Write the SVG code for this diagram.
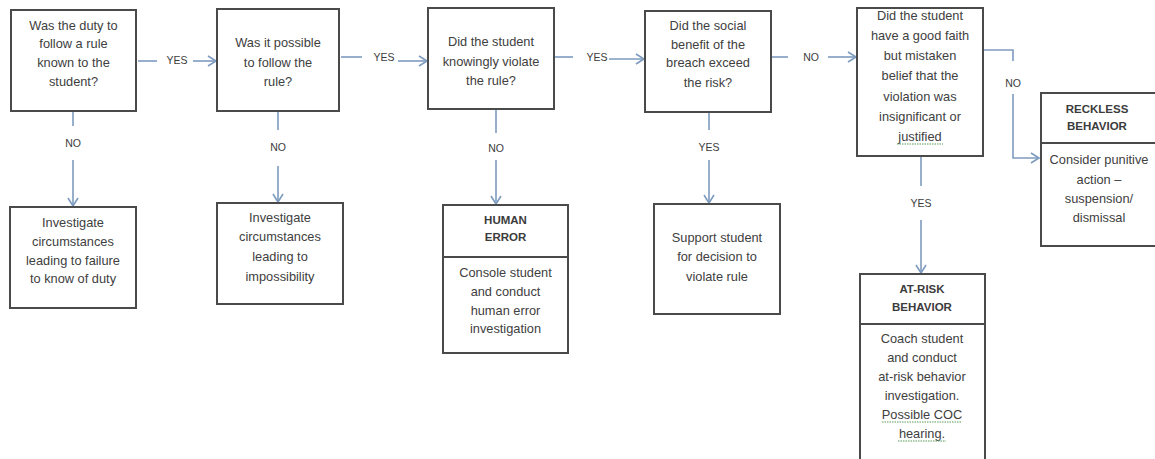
<svg xmlns="http://www.w3.org/2000/svg" width="1155" height="459" viewBox="0 0 1155 459">
<style>
.box{fill:#fff;stroke:#4a4a4a;stroke-width:2}
.div{stroke:#4a4a4a;stroke-width:2}
.t{font-family:"Liberation Sans",Arial,sans-serif;font-size:12.8px;fill:#404040;text-anchor:middle}
.h{font-family:"Liberation Sans",Arial,sans-serif;font-size:11.5px;font-weight:bold;fill:#3c3c3c;text-anchor:middle}
.lbl{font-family:"Liberation Sans",Arial,sans-serif;font-size:10.5px;fill:#3c3c3c;text-anchor:middle}
.c{fill:none;stroke:#7d9bbf;stroke-width:1.6}
.ul{stroke:#5a9a5a;stroke-width:1;stroke-dasharray:1.5 1}
</style>
<defs>
<marker id="arr" markerWidth="12" markerHeight="12" refX="10" refY="6" orient="auto" markerUnits="userSpaceOnUse">
<path d="M2,1 L10,6 L2,11" fill="none" stroke="#7d9bbf" stroke-width="1.6"/>
</marker>
</defs>
<rect width="1155" height="459" fill="#fff"/>

<g id="connectors">
<line class="c" x1="138" y1="61" x2="157" y2="61"/>
<text class="lbl" x="177" y="64">YES</text>
<line class="c" x1="193" y1="61" x2="216" y2="61" marker-end="url(#arr)"/>

<line class="c" x1="341" y1="57" x2="362" y2="57"/>
<text class="lbl" x="384" y="61">YES</text>
<line class="c" x1="398" y1="61" x2="427" y2="61" marker-end="url(#arr)"/>

<line class="c" x1="555" y1="57" x2="573" y2="57"/>
<text class="lbl" x="597" y="61">YES</text>
<line class="c" x1="609" y1="59" x2="644" y2="59" marker-end="url(#arr)"/>

<line class="c" x1="772" y1="57" x2="788" y2="57"/>
<text class="lbl" x="811" y="61">NO</text>
<line class="c" x1="828" y1="57" x2="856" y2="57" marker-end="url(#arr)"/>

<path class="c" d="M984,50 H1013 V61"/>
<text class="lbl" x="1013" y="87">NO</text>
<path class="c" d="M1013,94 V158 H1039" marker-end="url(#arr)"/>

<line class="c" x1="73" y1="112" x2="73" y2="126"/>
<text class="lbl" x="73" y="147">NO</text>
<line class="c" x1="73" y1="160" x2="73" y2="206" marker-end="url(#arr)"/>

<line class="c" x1="278" y1="112" x2="278" y2="130"/>
<text class="lbl" x="278" y="151">NO</text>
<line class="c" x1="278" y1="166" x2="278" y2="202" marker-end="url(#arr)"/>

<line class="c" x1="496" y1="110" x2="496" y2="133"/>
<text class="lbl" x="496" y="152">NO</text>
<line class="c" x1="496" y1="160" x2="496" y2="204" marker-end="url(#arr)"/>

<line class="c" x1="709" y1="113" x2="709" y2="130"/>
<text class="lbl" x="709" y="151">YES</text>
<line class="c" x1="709" y1="160" x2="709" y2="203" marker-end="url(#arr)"/>

<line class="c" x1="921" y1="157" x2="921" y2="186"/>
<text class="lbl" x="921" y="207">YES</text>
<line class="c" x1="921" y1="220" x2="921" y2="273" marker-end="url(#arr)"/>
</g>

<g id="q1">
<rect class="box" x="11" y="10" width="125" height="101"/>
<text class="t" x="73.5" y="30">Was the duty to</text>
<text class="t" x="73.5" y="48">follow a rule</text>
<text class="t" x="73.5" y="67">known to the</text>
<text class="t" x="73.5" y="86">student?</text>
</g>

<g id="q2">
<rect class="box" x="217" y="9" width="122" height="102"/>
<text class="t" x="278" y="47">Was it possible</text>
<text class="t" x="278" y="67">to follow the</text>
<text class="t" x="278" y="86">rule?</text>
</g>

<g id="q3">
<rect class="box" x="428" y="8" width="126" height="101"/>
<text class="t" x="491" y="46">Did the student</text>
<text class="t" x="491" y="66">knowingly violate</text>
<text class="t" x="491" y="85">the rule?</text>
</g>

<g id="q4">
<rect class="box" x="645" y="11" width="126" height="101"/>
<text class="t" x="708" y="30">Did the social</text>
<text class="t" x="708" y="49">benefit of the</text>
<text class="t" x="708" y="67">breach exceed</text>
<text class="t" x="708" y="87">the risk?</text>
</g>

<g id="q5">
<rect class="box" x="857" y="8" width="126" height="148"/>
<text class="t" x="920" y="20">Did the student</text>
<text class="t" x="920" y="40">have a good faith</text>
<text class="t" x="920" y="60">but mistaken</text>
<text class="t" x="920" y="80">belief that the</text>
<text class="t" x="920" y="101">violation was</text>
<text class="t" x="920" y="121">insignificant or</text>
<text class="t" x="920" y="141">justified</text>
<line class="ul" x1="897" y1="144" x2="943" y2="144"/>
</g>

<g id="reckless">
<rect class="box" x="1041" y="93" width="120" height="153"/>
<line class="div" x1="1041" y1="143" x2="1161" y2="143"/>
<text class="h" x="1097" y="113">RECKLESS</text>
<text class="h" x="1097" y="130">BEHAVIOR</text>
<text class="t" x="1099" y="164">Consider punitive</text>
<text class="t" x="1099" y="184">action –</text>
<text class="t" x="1099" y="203">suspension/</text>
<text class="t" x="1099" y="222">dismissal</text>
</g>

<g id="r1">
<rect class="box" x="10" y="207" width="126" height="101"/>
<text class="t" x="73" y="227">Investigate</text>
<text class="t" x="73" y="246">circumstances</text>
<text class="t" x="73" y="265">leading to failure</text>
<text class="t" x="73" y="283">to know of duty</text>
</g>

<g id="r2">
<rect class="box" x="217" y="203" width="126" height="101"/>
<text class="t" x="280" y="222">Investigate</text>
<text class="t" x="280" y="241">circumstances</text>
<text class="t" x="280" y="261">leading to</text>
<text class="t" x="280" y="281">impossibility</text>
</g>

<g id="human-error">
<rect class="box" x="443" y="205" width="125" height="148"/>
<line class="div" x1="443" y1="257" x2="568" y2="257"/>
<text class="h" x="505.5" y="224">HUMAN</text>
<text class="h" x="505.5" y="241">ERROR</text>
<text class="t" x="505.5" y="277">Console student</text>
<text class="t" x="505.5" y="296">and conduct</text>
<text class="t" x="505.5" y="315">human error</text>
<text class="t" x="505.5" y="333">investigation</text>
</g>

<g id="support">
<rect class="box" x="654" y="204" width="126" height="110"/>
<text class="t" x="717" y="242">Support student</text>
<text class="t" x="717" y="261">for decision to</text>
<text class="t" x="717" y="281">violate rule</text>
</g>

<g id="at-risk">
<rect class="box" x="860" y="274" width="125" height="196"/>
<line class="div" x1="860" y1="324" x2="985" y2="324"/>
<text class="h" x="922" y="293">AT-RISK</text>
<text class="h" x="922" y="311">BEHAVIOR</text>
<text class="t" x="922" y="343">Coach student</text>
<text class="t" x="922" y="362">and conduct</text>
<text class="t" x="922" y="381">at-risk behavior</text>
<text class="t" x="922" y="400">investigation.</text>
<text class="t" x="922" y="419">Possible COC</text>
<line class="ul" x1="882" y1="422" x2="962" y2="422"/>
<text class="t" x="922" y="438">hearing.</text>
<line class="ul" x1="898" y1="441" x2="946" y2="441"/>
</g>
</svg>
